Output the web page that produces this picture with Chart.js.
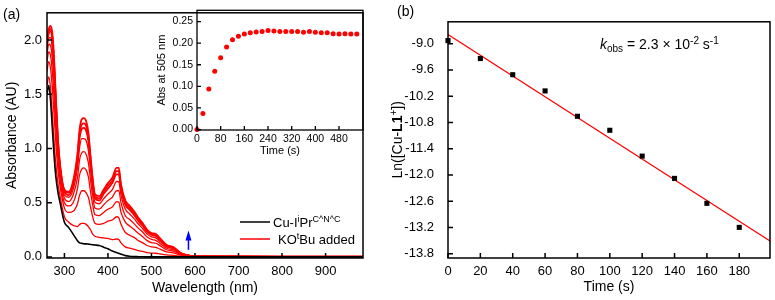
<!DOCTYPE html>
<html>
<head>
<meta charset="utf-8">
<script src="https://cdn.jsdelivr.net/npm/chart.js@4.4.0/dist/chart.umd.min.js"></script>
<style>
    html, body { margin: 0; padding: 0; background: #fff; }
    #wrap { position: relative; width: 775px; height: 300px; overflow: hidden; }
    canvas { position: absolute; }
</style>
</head>
<body>
<div id="wrap">
    <canvas id="specChart" width="380" height="300" style="left:0;top:0"></canvas>
    <canvas id="insetChart" width="240" height="160" style="left:140px;top:0"></canvas>
    <canvas id="rateChart" width="395" height="300" style="left:380px;top:0"></canvas>
</div>
<script>
const FONT = "'Liberation Sans', Arial, sans-serif";

// ---- (a) UV-vis spectra ----
const wavelengths = [260, 264, 268, 272, 276, 280, 285, 290,
    300, 310, 320, 330, 335, 340, 345, 350, 355, 360, 365, 370,
    380, 390, 400, 410, 420, 425, 430, 440, 450, 460, 470, 480, 490, 500, 510, 520, 535, 550, 570, 590, 600,
    700, 800, 985];

const absCu = [1.50, 1.58, 1.45, 1.20, 0.95, 0.75, 0.60, 0.50,
    0.32, 0.27, 0.21, 0.15, 0.13, 0.125, 0.12, 0.12, 0.118, 0.115, 0.112, 0.11,
    0.105, 0.09, 0.075, 0.055, 0.04, 0.033, 0.025, 0.012, 0.006, 0.003, 0.002, 0.001, 0, 0, 0, 0, 0, 0, 0, 0, 0,
    0, 0, 0];

// red traces after KOtBu addition, lowest first
const absRed1 = [1.58, 1.66, 1.56, 1.34, 1.09, 0.87, 0.68, 0.56,
    0.37, 0.32, 0.29, 0.28, 0.30, 0.31, 0.31, 0.30, 0.28, 0.25, 0.21, 0.19,
    0.18, 0.175, 0.17, 0.16, 0.165, 0.16, 0.13, 0.093, 0.08, 0.07, 0.059, 0.05, 0.04, 0.035, 0.034, 0.027, 0.018, 0.014, 0.005, 0.002, 0.001,
    0.001, 0.001, 0.001];
const absRed2 = [1.71, 1.80, 1.74, 1.57, 1.33, 1.07, 0.81, 0.65,
    0.45, 0.41, 0.42, 0.49, 0.57, 0.61, 0.61, 0.59, 0.55, 0.46, 0.37, 0.31,
    0.30, 0.31, 0.33, 0.34, 0.37, 0.36, 0.30, 0.225, 0.20, 0.18, 0.15, 0.13, 0.105, 0.092, 0.088, 0.071, 0.046, 0.038, 0.013, 0.004, 0.003,
    0.002, 0.001, 0.001];
const absRed3 = [1.80, 1.89, 1.86, 1.72, 1.49, 1.20, 0.90, 0.71,
    0.50, 0.47, 0.50, 0.63, 0.76, 0.81, 0.82, 0.80, 0.74, 0.60, 0.48, 0.39,
    0.38, 0.41, 0.44, 0.46, 0.51, 0.505, 0.41, 0.32, 0.284, 0.253, 0.217, 0.186, 0.15, 0.132, 0.126, 0.102, 0.066, 0.054, 0.018, 0.006, 0.005,
    0.002, 0.002, 0.002];
const absRed4 = [1.87, 1.96, 1.95, 1.84, 1.61, 1.30, 0.97, 0.76,
    0.54, 0.51, 0.57, 0.73, 0.90, 0.96, 0.97, 0.945, 0.87, 0.71, 0.56, 0.45,
    0.44, 0.48, 0.52, 0.55, 0.61, 0.61, 0.50, 0.38, 0.345, 0.307, 0.263, 0.227, 0.183, 0.161, 0.153, 0.124, 0.08, 0.066, 0.022, 0.007, 0.006,
    0.003, 0.002, 0.002];
const absRed5 = [1.92, 2.02, 2.02, 1.93, 1.71, 1.38, 1.02, 0.79,
    0.57, 0.55, 0.62, 0.82, 1.01, 1.09, 1.09, 1.07, 0.985, 0.80, 0.62, 0.505,
    0.49, 0.535, 0.58, 0.62, 0.695, 0.69, 0.57, 0.44, 0.396, 0.353, 0.303, 0.26, 0.21, 0.185, 0.176, 0.143, 0.092, 0.076, 0.025, 0.008, 0.007,
    0.003, 0.003, 0.003];
const absRed6 = [1.96, 2.06, 2.08, 2.00, 1.78, 1.44, 1.06, 0.82,
    0.60, 0.57, 0.66, 0.89, 1.10, 1.18, 1.19, 1.16, 1.07, 0.865, 0.67, 0.54,
    0.52, 0.58, 0.63, 0.68, 0.76, 0.76, 0.62, 0.48, 0.433, 0.387, 0.331, 0.285, 0.23, 0.202, 0.193, 0.156, 0.101, 0.083, 0.028, 0.009, 0.007,
    0.004, 0.003, 0.003];
const absRed7 = [1.98, 2.08, 2.10, 2.04, 1.81, 1.47, 1.08, 0.84,
    0.61, 0.59, 0.68, 0.92, 1.14, 1.22, 1.23, 1.205, 1.11, 0.90, 0.70, 0.56,
    0.54, 0.60, 0.656, 0.70, 0.79, 0.79, 0.645, 0.50, 0.451, 0.403, 0.346, 0.298, 0.24, 0.211, 0.202, 0.163, 0.106, 0.086, 0.029, 0.01, 0.008,
    0.004, 0.003, 0.003];
const absRed8 = [2.00, 2.10, 2.13, 2.07, 1.85, 1.50, 1.10, 0.85,
    0.62, 0.60, 0.70, 0.95, 1.18, 1.27, 1.28, 1.25, 1.15, 0.93, 0.72, 0.58,
    0.56, 0.62, 0.68, 0.73, 0.82, 0.82, 0.67, 0.52, 0.47, 0.42, 0.36, 0.31, 0.25, 0.22, 0.21, 0.17, 0.11, 0.09, 0.03, 0.01, 0.008,
    0.004, 0.003, 0.003];

const specXTicks = [300, 400, 500, 600, 700, 800, 900];
const specYTicks = [0, 0.5, 1.0, 1.5, 2.0];
const arrowAt = 585, arrowFrom = 0.065, arrowTo = 0.244;

// ---- inset: Abs at 505 nm vs time ----
const insetTime = [0, 20, 40, 60, 80, 100, 120, 140, 160, 180, 200, 220, 240, 260,
    280, 300, 320, 340, 360, 380, 400, 420, 440, 460, 480, 500, 520, 540];
const abs505 = [0.000, 0.037, 0.094, 0.135, 0.166, 0.191, 0.208, 0.216, 0.221, 0.224, 0.226, 0.227, 0.229, 0.228,
    0.227, 0.227, 0.227, 0.227, 0.225, 0.227, 0.225, 0.224, 0.224, 0.222, 0.221, 0.222, 0.221, 0.221];
const insetXTicks = [0, 80, 160, 240, 320, 400, 480];
const insetYTicks = [0, 0.05, 0.10, 0.15, 0.20, 0.25];

// ---- (b) kinetics ----
const rateTime = [0, 20, 40, 60, 80, 100, 120, 140, 160, 180];
const lnCu = [-8.93, -9.34, -9.71, -10.08, -10.66, -10.98, -11.57, -12.08, -12.65, -13.20];
const fitTime = [0, 199];
const fitLn = [-8.79, -13.51];
const rateXTicks = [0, 20, 40, 60, 80, 100, 120, 140, 160, 180];
const rateYTicks = [-9.0, -9.6, -10.2, -10.8, -11.4, -12.0, -12.6, -13.2, -13.8];

Chart.defaults.font.family = FONT;
Chart.defaults.color = '#000';

function pts(xs, ys) {
    return xs.map((x, i) => ({ x, y: ys[i] }));
}

// text with super/subscripts, bold and italic parts
function richText(ctx, parts, x, y, size, align) {
    const fontFor = p => `${p.i ? 'italic ' : ''}${p.b ? 'bold ' : ''}${(p.sup || p.sub) ? Math.round(size * 0.68) : size}px ${FONT}`;
    let w = 0;
    parts.forEach(p => { ctx.font = fontFor(p); w += ctx.measureText(p.t).width; });
    let cx = align === 'center' ? x - w / 2 : x;
    ctx.textAlign = 'left';
    ctx.textBaseline = 'alphabetic';
    parts.forEach(p => {
        ctx.font = fontFor(p);
        const dy = p.sup ? -size * 0.38 : (p.sub ? size * 0.24 : 0);
        ctx.fillText(p.t, cx, y + dy);
        cx += ctx.measureText(p.t).width;
    });
}

// box round the plot and inward tick marks
const framePlugin = {
    id: 'frame',
    afterDraw(chart, args, opts) {
        const { ctx, chartArea: a } = chart;
        const len = opts.tickLen || 5;
        ctx.save();
        ctx.strokeStyle = '#000';
        ctx.lineWidth = opts.lineWidth || 1.5;
        ctx.strokeRect(a.left, a.top, a.right - a.left, a.bottom - a.top);
        ctx.beginPath();
        chart.scales.x.ticks.forEach(t => {
            const px = chart.scales.x.getPixelForValue(t.value);
            ctx.moveTo(px, a.bottom);
            ctx.lineTo(px, a.bottom - len);
        });
        chart.scales.y.ticks.forEach(t => {
            const py = chart.scales.y.getPixelForValue(t.value);
            ctx.moveTo(a.left, py);
            ctx.lineTo(a.left + len, py);
        });
        ctx.stroke();
        ctx.restore();
    }
};

const specExtras = {
    id: 'specExtras',
    afterDraw(chart) {
        const { ctx, chartArea: a, scales } = chart;
        ctx.save();
        ctx.fillStyle = '#000';
        ctx.font = `14px ${FONT}`;
        ctx.textBaseline = 'middle';
        ctx.textAlign = 'left';
        ctx.fillText('(a)', 3, 15);

        // blue arrow
        const ax = scales.x.getPixelForValue(arrowAt);
        const y0 = scales.y.getPixelForValue(arrowFrom);
        const y1 = scales.y.getPixelForValue(arrowTo);
        ctx.strokeStyle = '#0000ff';
        ctx.fillStyle = '#0000ff';
        ctx.lineWidth = 1.5;
        ctx.beginPath();
        ctx.moveTo(ax, y0);
        ctx.lineTo(ax, y1 + 6);
        ctx.stroke();
        ctx.beginPath();
        ctx.moveTo(ax, y1);
        ctx.lineTo(ax - 3, y1 + 10);
        ctx.lineTo(ax + 3, y1 + 10);
        ctx.closePath();
        ctx.fill();

        // legend
        const lx = a.left + 193;
        ctx.lineWidth = 1.5;
        ctx.strokeStyle = '#000';
        ctx.beginPath();
        ctx.moveTo(lx, 222); ctx.lineTo(lx + 30, 222);
        ctx.stroke();
        ctx.strokeStyle = '#ff0000';
        ctx.beginPath();
        ctx.moveTo(lx, 239); ctx.lineTo(lx + 30, 239);
        ctx.stroke();
        ctx.fillStyle = '#000';
        richText(ctx, [{ t: 'Cu-I' }, { t: 'i', sup: true }, { t: 'Pr' }, { t: 'C^N^C', sup: true }], lx + 33, 226.5, 13);
        richText(ctx, [{ t: 'KO' }, { t: 't', sup: true }, { t: 'Bu added' }], lx + 38, 243.5, 13);
        ctx.restore();
    }
};

const rateExtras = {
    id: 'rateExtras',
    afterDraw(chart) {
        const { ctx, chartArea: a } = chart;
        ctx.save();
        ctx.fillStyle = '#000';
        ctx.font = `14px ${FONT}`;
        ctx.textBaseline = 'middle';
        ctx.textAlign = 'left';
        ctx.fillText('(b)', 17, 12);

        richText(ctx, [{ t: 'k', i: true }, { t: 'obs', sub: true }, { t: ' = 2.3 \u00d7 10' }, { t: '-2', sup: true }, { t: ' s' }, { t: '-1', sup: true }], 220, 49, 14);

        // rotated y title
        ctx.translate(17, (a.top + a.bottom) / 2);
        ctx.rotate(-Math.PI / 2);
        richText(ctx, [{ t: 'Ln([Cu-' }, { t: 'L1', b: true }, { t: '+', sup: true }, { t: '])' }], 0, 5, 14, 'center');
        ctx.restore();
    }
};

function axis(min, max, tickVals, fmt, size, pad, fit, horizontal, title) {
    return {
        type: 'linear',
        min, max,
        afterBuildTicks: s => { s.ticks = tickVals.map(v => ({ value: v })); },
        afterFit: s => { if (horizontal) s.height = fit; else s.width = fit; },
        grid: { display: false, drawTicks: false },
        border: { display: false },
        ticks: { color: '#000', font: { size }, padding: pad, maxRotation: 0, autoSkip: false, callback: fmt },
        title: title || { display: false }
    };
}

const redSets = [absRed1, absRed2, absRed3, absRed4, absRed5, absRed6, absRed7, absRed8];

new Chart(document.getElementById('specChart'), {
    type: 'line',
    data: {
        datasets: [
            { data: pts(wavelengths, absCu), borderColor: '#000', borderWidth: 1.6 },
            ...redSets.slice().reverse().map((s, i) => ({
                data: pts(wavelengths, s),
                borderColor: '#ff0000',
                borderWidth: i < 3 ? 1.8 : 1.3
            }))
        ]
    },
    options: {
        responsive: false,
        animation: false,
        devicePixelRatio: 1,
        layout: { padding: { left: 0, right: 17, top: 5, bottom: 0 } },
        elements: { point: { radius: 0 }, line: { cubicInterpolationMode: 'monotone' } },
        plugins: { legend: { display: false }, tooltip: { enabled: false }, frame: { tickLen: 5 } },
        scales: {
            x: axis(260, 986, specXTicks, v => String(v), 13, 6, 42, true,
                { display: true, text: 'Wavelength (nm)', color: '#000', font: { size: 14 }, padding: { top: 0, bottom: 3 } }),
            y: axis(-0.01, 2.25, specYTicks, v => v.toFixed(1), 13, 5, 47, false,
                { display: true, text: 'Absorbance (AU)', color: '#000', font: { size: 14 }, padding: { top: 3.6, bottom: 0 } })
        }
    },
    plugins: [framePlugin, specExtras]
});

new Chart(document.getElementById('insetChart'), {
    type: 'scatter',
    data: {
        datasets: [{
            data: pts(insetTime, abs505),
            pointRadius: 2.5,
            pointBackgroundColor: '#ff0000',
            pointBorderWidth: 0,
            clip: false
        }]
    },
    options: {
        responsive: false,
        animation: false,
        devicePixelRatio: 1,
        layout: { padding: { left: 0, right: 17, top: 5, bottom: 0 } },
        plugins: { legend: { display: false }, tooltip: { enabled: false }, frame: { tickLen: 4, lineWidth: 1.3 } },
        scales: {
            x: axis(0, 561, insetXTicks, v => String(v), 10.5, 3, 30, true,
                { display: true, text: 'Time (s)', color: '#000', font: { size: 11 }, padding: { top: 0, bottom: 2.4 } }),
            y: axis(-0.001, 0.276, insetYTicks, v => v.toFixed(2), 10.5, 4, 57, false,
                { display: true, text: 'Abs at 505 nm', color: '#000', font: { size: 11 }, padding: { top: 15.4, bottom: 0 } })
        }
    },
    plugins: [framePlugin]
});

new Chart(document.getElementById('rateChart'), {
    type: 'scatter',
    data: {
        datasets: [
            {
                data: pts(rateTime, lnCu),
                pointStyle: 'rect',
                pointRadius: 3.6,
                pointBackgroundColor: '#000',
                pointBorderWidth: 0,
                clip: false
            },
            {
                type: 'line',
                data: pts(fitTime, fitLn),
                borderColor: '#ff0000',
                borderWidth: 1.2,
                pointRadius: 0
            }
        ]
    },
    options: {
        responsive: false,
        animation: false,
        devicePixelRatio: 1,
        layout: { padding: { left: 0, right: 5, top: 5, bottom: 0 } },
        plugins: { legend: { display: false }, tooltip: { enabled: false }, frame: { tickLen: 5 } },
        scales: {
            x: axis(0, 199, rateXTicks, v => String(v), 13, 6, 42, true,
                { display: true, text: 'Time (s)', color: '#000', font: { size: 14 }, padding: { top: 0, bottom: 4 } }),
            y: axis(-13.9, -8.5, rateYTicks, v => v.toFixed(1), 13, 14, 68, false)
        }
    },
    plugins: [framePlugin, rateExtras]
});
</script>
</body>
</html>
